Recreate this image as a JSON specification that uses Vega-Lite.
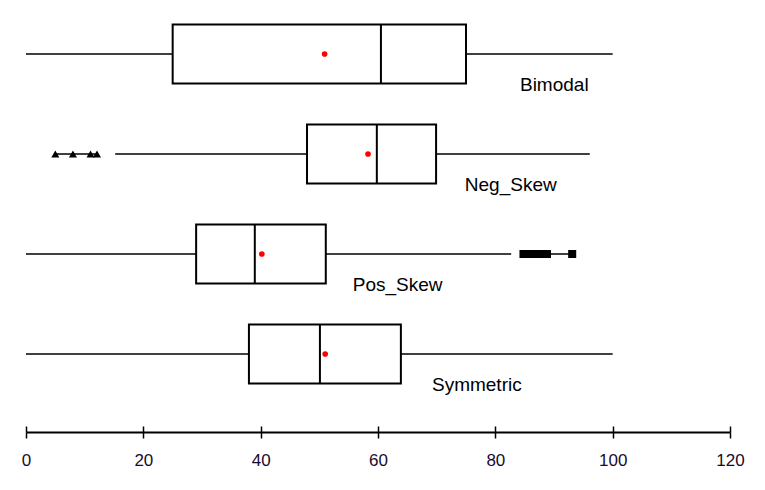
{
  "$schema": "https://vega.github.io/schema/vega-lite/v6.json",
  "width": 704,
  "height": 400,
  "autosize": {"type": "none"},
  "padding": {"left": 26, "top": 4, "right": 35, "bottom": 86},
  "background": "white",
  "config": {"view": {"stroke": null}},
  "datasets": {
    "stats": [
      {"name": "Bimodal", "lower": 0, "q1": 25, "median": 60.5, "q3": 75, "upper": 100, "mean": 50.9, "labelAt": 84.2},
      {"name": "Neg_Skew", "lower": 15.2, "q1": 47.9, "median": 59.8, "q3": 69.9, "upper": 96.1, "mean": 58.3, "labelAt": 74.8},
      {"name": "Pos_Skew", "lower": 0, "q1": 29, "median": 39, "q3": 51.1, "upper": 82.7, "mean": 40.2, "labelAt": 55.7},
      {"name": "Symmetric", "lower": 0, "q1": 38, "median": 50.1, "q3": 63.9, "upper": 100, "mean": 51, "labelAt": 69.2}
    ],
    "outliers": [
      {"name": "Neg_Skew", "value": 5.0},
      {"name": "Neg_Skew", "value": 8.0},
      {"name": "Neg_Skew", "value": 11.0},
      {"name": "Neg_Skew", "value": 12.1},
      {"name": "Pos_Skew", "value": 84.8},
      {"name": "Pos_Skew", "value": 85.5},
      {"name": "Pos_Skew", "value": 86.3},
      {"name": "Pos_Skew", "value": 87.0},
      {"name": "Pos_Skew", "value": 87.8},
      {"name": "Pos_Skew", "value": 88.8},
      {"name": "Pos_Skew", "value": 93.1}
    ]
  },
  "resolve": {"axis": {"x": "independent"}},
  "layer": [
    {
      "data": {"name": "stats"},
      "mark": {"type": "rule", "color": "black", "strokeWidth": 1.7},
      "encoding": {
        "x": {
          "field": "lower", "type": "quantitative",
          "scale": {"domain": [0, 120], "nice": false, "zero": false},
          "axis": {
            "orient": "bottom", "offset": 28, "values": [0, 20, 40, 60, 80, 100, 120],
            "title": null, "grid": false,
            "domainColor": "black", "domainWidth": 2,
            "ticks": true, "tickColor": "black", "tickWidth": 1.5, "tickSize": 6,
            "labelFont": "Liberation Sans Narrow, Liberation Sans, Arial", "labelFontSize": 17,
            "labelColor": "#1a0a2e", "labelPadding": 14, "labelFlush": false, "labelOverlap": false
          }
        },
        "x2": {"field": "upper"},
        "y": {
          "field": "name", "type": "nominal",
          "scale": {"domain": ["Bimodal", "Neg_Skew", "Pos_Skew", "Symmetric"], "paddingInner": 0, "paddingOuter": 0},
          "axis": null
        }
      }
    },
    {
      "data": {"name": "outliers"},
      "mark": {"type": "rule", "color": "black", "strokeWidth": 1.5},
      "encoding": {
        "x": {"aggregate": "min", "field": "value", "type": "quantitative", "axis": null},
        "x2": {"aggregate": "max", "field": "value"},
        "y": {"field": "name", "type": "nominal", "axis": null}
      }
    },
    {
      "data": {"name": "stats"},
      "mark": {"type": "bar", "fill": "white", "stroke": "black", "strokeWidth": 2, "size": 59},
      "encoding": {
        "x": {"field": "q1", "type": "quantitative", "axis": null},
        "x2": {"field": "q3"},
        "y": {"field": "name", "type": "nominal", "axis": null}
      }
    },
    {
      "data": {"name": "stats"},
      "mark": {"type": "tick", "color": "black", "opacity": 1, "thickness": 2, "size": 59, "orient": "vertical"},
      "encoding": {
        "x": {"field": "median", "type": "quantitative", "axis": null},
        "y": {"field": "name", "type": "nominal", "axis": null}
      }
    },
    {
      "data": {"name": "outliers"},
      "mark": {"type": "point", "filled": true, "color": "black", "opacity": 1, "size": 65},
      "encoding": {
        "x": {"field": "value", "type": "quantitative", "axis": null},
        "y": {"field": "name", "type": "nominal", "axis": null},
        "shape": {
          "field": "name", "type": "nominal",
          "scale": {"domain": ["Neg_Skew", "Pos_Skew"], "range": ["triangle-up", "square"]},
          "legend": null
        }
      }
    },
    {
      "data": {"name": "stats"},
      "mark": {"type": "point", "filled": true, "color": "red", "opacity": 1, "size": 32, "shape": "circle"},
      "encoding": {
        "x": {
          "field": "mean", "type": "quantitative",
          "axis": {
            "orient": "bottom", "offset": 22, "values": [0, 20, 40, 60, 80, 100, 120],
            "title": null, "grid": false, "domain": false, "labels": false,
            "ticks": true, "tickColor": "black", "tickWidth": 1.5, "tickSize": 6
          }
        },
        "y": {"field": "name", "type": "nominal", "axis": null}
      }
    },
    {
      "data": {"name": "stats"},
      "mark": {"type": "text", "align": "left", "baseline": "middle", "dy": 31, "font": "Liberation Sans, Arial", "fontSize": 19, "color": "black"},
      "encoding": {
        "x": {"field": "labelAt", "type": "quantitative", "axis": null},
        "y": {"field": "name", "type": "nominal", "axis": null},
        "text": {"field": "name"}
      }
    }
  ]
}
